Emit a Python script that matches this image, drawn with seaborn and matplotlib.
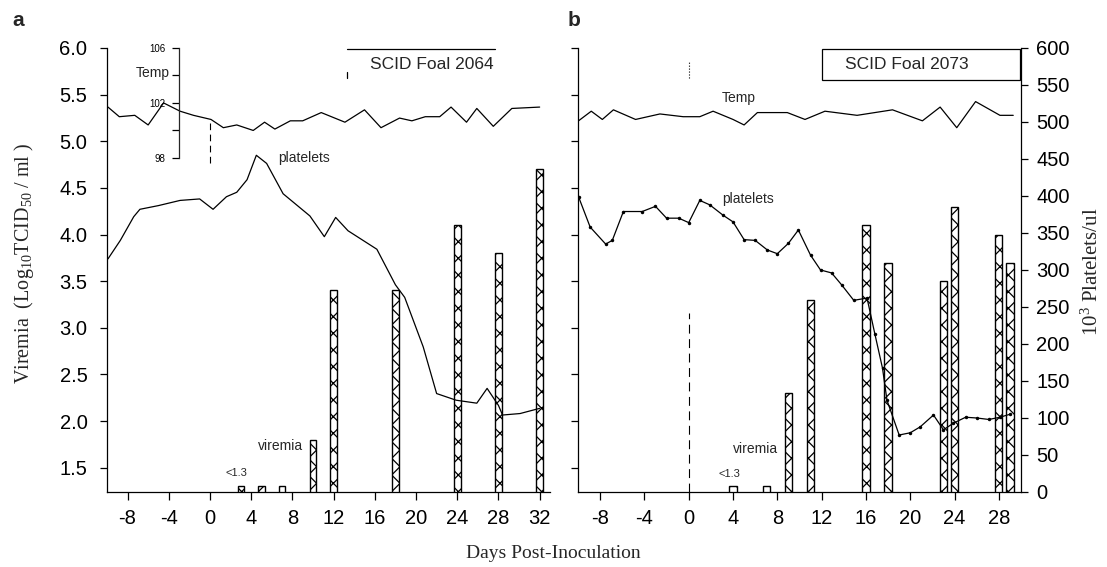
import numpy as np
import pandas as pd
import matplotlib
matplotlib.use("Agg")
import matplotlib.pyplot as plt
import seaborn as sns
from matplotlib.patches import Rectangle
from matplotlib.lines import Line2D

# ---------------- data ----------------
# Panel a : SCID Foal 2064
a_vir_day = [3, 5, 7, 10, 12, 18, 24, 28, 32]
a_vir = [1.3, 1.3, 1.3, 1.8, 3.4, 3.4, 4.1, 3.8, 4.7]

a_plt_day = [-9.9, -8.7, -7.4, -6.8, -5.0, -2.9, -1.0, 0.3, 1.6, 2.6, 3.6, 4.5, 5.5,
             7.1, 9.7, 11.1, 12.2, 13.4, 16.2, 18.0, 18.9, 20.7, 22.0, 23.9, 25.9,
             26.9, 28.0, 28.4, 30.1, 32.0]
a_plt = [315, 340, 372, 382, 387, 394, 396, 382, 399, 405, 422, 455, 444,
         403, 373, 345, 371, 353, 328, 280, 263, 196, 133, 124, 120,
         140, 117, 104, 106, 113]

a_temp_day = [-9.9, -8.8, -7.3, -6.0, -4.5, -2.9, -1.6, 0.1, 1.3, 2.6, 4.2, 5.3, 6.3,
              7.8, 9.0, 10.8, 13.1, 15.0, 16.6, 18.4, 19.6, 20.9, 22.3, 23.4, 24.9,
              25.9, 27.5, 29.3, 32.0]
a_temp = [101.7, 101.0, 101.1, 100.4, 102.0, 101.4, 101.1, 100.8, 100.2, 100.4, 100.0,
          100.6, 100.1, 100.7, 100.7, 101.3, 100.6, 101.5, 100.2, 100.9, 100.7, 101.0,
          101.0, 101.7, 100.6, 101.6, 100.3, 101.6, 101.7]

# Panel b : SCID Foal 2073
b_vir_day = [4, 7, 9, 11, 16, 18, 23, 24, 28, 29]
b_vir = [1.3, 1.3, 2.3, 3.3, 4.1, 3.7, 3.5, 4.3, 4.0, 3.7]

b_plt_day = [-9.95, -8.9, -7.5, -6.9, -5.9, -4.2, -3.0, -2.0, -0.9, 0.0, 1.0, 1.9, 3.1,
             4.0, 5.0, 6.0, 7.1, 8.0, 9.0, 9.9, 11.0, 11.9, 12.9, 13.8, 14.9, 16.1,
             16.8, 17.5, 17.9, 19.0, 20.0, 20.9, 22.1, 23.0, 23.9, 25.0, 26.0, 27.1,
             28.1, 29.0]
b_plt = [399, 358, 335, 340, 379, 379, 386, 370, 370, 364, 394, 388, 374,
         365, 341, 340, 327, 322, 336, 354, 320, 300, 296, 280, 259, 262,
         214, 167, 124, 77, 80, 88, 104, 84, 93, 101, 100, 98,
         101, 105]

b_temp_day = [-9.95, -8.8, -7.8, -6.8, -4.8, -2.6, -0.5, 1.0, 2.2, 4.0, 5.0, 6.2, 8.9,
              10.5, 12.3, 15.2, 18.4, 21.1, 22.7, 24.2, 25.9, 28.1, 29.3]
b_temp = [100.7, 101.4, 100.8, 101.5, 100.8, 101.2, 101.0, 101.0, 101.4, 100.8, 100.4,
          101.3, 101.3, 100.8, 101.4, 101.1, 101.5, 100.7, 101.7, 100.2, 102.1, 101.1,
          101.1]

vir_ticks = [1.5, 2.0, 2.5, 3.0, 3.5, 4.0, 4.5, 5.0, 5.5, 6.0]
plt_ticks = list(range(0, 601, 50))
temp_ticks = [98, 100, 102, 104, 106]
temp_ticklabels = ["98", "", "102", "", "106"]
a_xticks = list(range(-8, 33, 4))
b_xticks = list(range(-8, 29, 4))

# ---------------- style ----------------
sns.set_style("ticks")
SANS = ["Liberation Sans", "DejaVu Sans"]
SERIF = ["Liberation Serif", "DejaVu Serif"]
plt.rcParams["font.family"] = SANS
plt.rcParams["mathtext.fontset"] = "custom"
plt.rcParams["mathtext.rm"] = "Liberation Serif"
plt.rcParams["mathtext.it"] = "Liberation Serif:italic"
plt.rcParams["hatch.linewidth"] = 0.9
plt.rcParams["hatch.color"] = "black"

TICK_FS = 14.5
BAR_W = 0.65
VIR_LIM = (1.24, 6.0)
PLT_LIM = (0, 600)
TEMP_LIM = (73.7, 106)

fig = plt.figure(figsize=(11.07, 5.67), dpi=100)
axA = fig.add_axes([0.0966, 0.1323, 0.4002, 0.7831])
axB = fig.add_axes([0.5221, 0.1323, 0.4002, 0.7831])


def bars(ax, days, vals):
    df = pd.DataFrame({"day": days, "v": vals})
    step = float(np.min(np.diff(sorted(days))))
    sns.barplot(data=df, x="day", y="v", native_scale=True, width=BAR_W / step,
                color="white", edgecolor="black", linewidth=1.0, hatch="xx",
                errorbar=None, ax=ax, zorder=2)


def line(ax, days, vals, **kw):
    df = pd.DataFrame({"day": days, "v": vals})
    sns.lineplot(data=df, x="day", y="v", color="black", linewidth=0.9,
                 estimator=None, sort=False, ax=ax, **kw)


def base_axes(ax, xlim, xticks):
    ax.set_xlim(*xlim)
    ax.set_ylim(*VIR_LIM)
    ax.set_xticks(xticks)
    ax.set_xticklabels([str(t) for t in xticks])
    ax.set_yticks(vir_ticks)
    for s in ["top", "right"]:
        ax.spines[s].set_visible(False)
    for s in ["left", "bottom"]:
        ax.spines[s].set_linewidth(0.9)
        ax.spines[s].set_color("black")
    ax.tick_params(axis="x", direction="out", length=6, width=0.9, pad=6,
                   labelsize=TICK_FS, colors="black")
    ax.tick_params(axis="y", direction="out", length=5, width=0.9, pad=9,
                   labelsize=TICK_FS, colors="black")
    ax.set_xlabel("")
    ax.set_ylabel("")


# ---------------- panel a ----------------
bars(axA, a_vir_day, a_vir)
base_axes(axA, (-10, 33), a_xticks)
axA.set_yticklabels([f"{t:.1f}" for t in vir_ticks])

pA = axA.twinx()
line(pA, a_plt_day, a_plt)
pA.set_ylim(*PLT_LIM)
pA.set_xlim(-10, 33)
pA.axis("off")

tA = axA.twinx()
line(tA, a_temp_day, a_temp)
tA.set_ylim(*TEMP_LIM)
tA.set_xlim(-10, 33)
for s in ["top", "right", "bottom"]:
    tA.spines[s].set_visible(False)
tA.yaxis.tick_left()
tA.spines["left"].set_position(("data", -3))
tA.spines["left"].set_bounds(98, 106)
tA.spines["left"].set_linewidth(0.9)
tA.set_yticks(temp_ticks)
tA.set_yticklabels(temp_ticklabels)
tA.tick_params(axis="y", direction="out", length=5, width=0.9, pad=5,
               labelsize=7, colors="black")
tA.set_ylabel("")
tA.text(-3.9, 104.2, "Temp", ha="right", va="center", fontsize=10)
tA.axvline(0, ymin=0.741, ymax=0.838, color="black", lw=0.8, ls=(0, (6, 4)))

axA.text(6.6, 4.82, "platelets", ha="left", va="center", fontsize=10)
axA.text(9.05, 1.73, "viremia", ha="right", va="center", fontsize=10)
axA.text(2.57, 1.445, "<1.3", ha="center", va="center", fontsize=8)
axA.text(0.733, 0.962, "SCID Foal 2064", transform=axA.transAxes,
         ha="center", va="center", fontsize=12.5)
axA.add_line(Line2D([0.542, 0.876], [0.998, 0.998], transform=axA.transAxes,
                    color="black", lw=0.9))
axA.add_line(Line2D([0.542, 0.542], [0.932, 0.946], transform=axA.transAxes,
                    color="black", lw=0.9))

# ---------------- panel b ----------------
bars(axB, b_vir_day, b_vir)
base_axes(axB, (-10, 30), b_xticks)
axB.set_yticklabels([])
axB.axvline(0, ymin=0, ymax=0.403, color="black", lw=0.8, ls=(0, (8, 5)))
axB.axvline(0, ymin=0.932, ymax=0.968, color="black", lw=0.8, ls=":")

pB = axB.twinx()
line(pB, b_plt_day, b_plt, marker="o", markersize=2.5, markeredgewidth=0)
pB.set_ylim(*PLT_LIM)
pB.set_xlim(-10, 30)
pB.set_yticks(plt_ticks)
pB.set_yticklabels([str(t) for t in plt_ticks])
for s in ["top", "left", "bottom"]:
    pB.spines[s].set_visible(False)
pB.spines["right"].set_linewidth(0.9)
pB.spines["right"].set_color("black")
pB.tick_params(axis="y", direction="out", length=5, width=0.9, pad=6,
               labelsize=TICK_FS, colors="black")
pB.set_ylabel("")

tB = axB.twinx()
line(tB, b_temp_day, b_temp)
tB.set_ylim(*TEMP_LIM)
tB.set_xlim(-10, 30)
tB.axis("off")

axB.text(3.0, 5.46, "Temp", ha="left", va="center", fontsize=10)
axB.text(3.0, 4.38, "platelets", ha="left", va="center", fontsize=10)
axB.text(8.11, 1.70, "viremia", ha="right", va="center", fontsize=10)
axB.text(3.64, 1.43, "<1.3", ha="center", va="center", fontsize=8)
axB.add_patch(Rectangle((0.551, 0.928), 0.447, 0.070, transform=axB.transAxes,
                        fill=False, edgecolor="black", lw=0.9))
axB.text(0.7415, 0.962, "SCID Foal 2073", transform=axB.transAxes,
         ha="center", va="center", fontsize=12.5)

# ---------------- figure texts ----------------
fig.text(18 / 1107, 1 - 21 / 567, "a", fontsize=15, fontweight="bold",
         ha="center", va="center")
fig.text(574 / 1107, 1 - 21 / 567, "b", fontsize=15, fontweight="bold",
         ha="center", va="center")
fig.text(24 / 1107, 1 - 263 / 567, "Viremia  (Log$_{10}$TCID$_{50}$ / ml )",
         rotation=90, ha="center", va="center", fontsize=14.5, family=SERIF)
fig.text(1092 / 1107, 1 - 272 / 567, "10$^3$ Platelets/ul",
         rotation=90, ha="center", va="center", fontsize=15, family=SERIF)
fig.text(553 / 1107, 1 - 553 / 567, "Days Post-Inoculation",
         ha="center", va="center", fontsize=14, family=SERIF)

fig.savefig("out.png", dpi=100)
